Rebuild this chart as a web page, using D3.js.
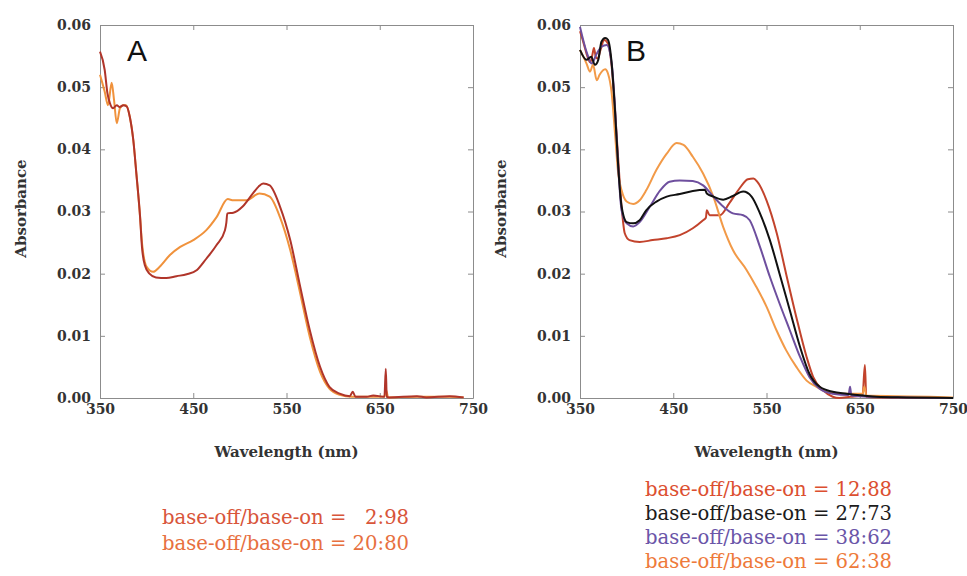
<!DOCTYPE html>
<html>
<head>
<meta charset="utf-8">
<script src="https://cdn.jsdelivr.net/npm/d3@7"></script>
<style>
  body { margin: 0; background: #fff; }
  .tick text { font-family: "DejaVu Serif", serif; font-weight: bold; font-size: 14px; fill: #333; }
  .axis path, .axis line { stroke: #8c8c8c; }
</style>
</head>
<body>
<div id="chart"></div>
<script>
// tick values and labels
var xTicks = [350, 450, 550, 650, 750];
var yTicks = [0, 0.01, 0.02, 0.03, 0.04, 0.05, 0.06];

// panel A spectra [wavelength nm, absorbance]
var a_2_98 = [[350,0.0557],[355,0.0528],[358,0.0490],[360.7,0.0474],[364,0.0466],[368,0.0471],[371,0.0468],[375,0.0471],[378.6,0.0469],[382,0.0452],[385.7,0.0415],[389,0.0361],[393,0.0291],[395,0.0243],[398,0.0214],[403,0.0200],[410,0.0194],[421,0.0193],[432,0.0196],[443,0.0199],[454,0.0206],[464,0.0224],[475,0.0246],[484,0.0270],[485.5,0.0282],[486.5,0.0297],[493,0.0298],[503,0.0308],[514,0.0329],[520,0.0340],[525,0.0345],[532,0.0342],[543,0.0308],[554,0.0254],[564,0.0184],[575,0.0109],[586,0.0050],[596,0.0018],[607,0.0007],[618,0.0003],[621,0.0010],[624,0.0002],[636,0.0002],[643,0.0004],[655,0.0002],[656.5,0.0047],[657.5,0.0002],[660,0.0001],[690,0.0003],[700,0.0001],[725,0.0003],[740,0.0001]];
var a_20_80 = [[350,0.0520],[355,0.0493],[358.6,0.0471],[362.5,0.0507],[365,0.0480],[368,0.0442],[371.4,0.0466],[375,0.0471],[378,0.0471],[382,0.0452],[385.7,0.0415],[389,0.0361],[393,0.0291],[395,0.0250],[400,0.0211],[407,0.0203],[414,0.0211],[425,0.0230],[436,0.0243],[450,0.0254],[464,0.0270],[475,0.0291],[487,0.0320],[493,0.0318],[507,0.0318],[521,0.0329],[532,0.0324],[543,0.0291],[554,0.0238],[564,0.0173],[575,0.0098],[586,0.0042],[596,0.0015],[607,0.0005],[620,0.0002],[655,0.0002],[657,0.0012],[659,0.0001],[690,0.0002],[725,0.0002],[740,0.0001]];

// panel B spectra
var b_12_88 = [[350,0.0590],[354,0.0570],[357,0.0554],[361,0.0540],[363,0.0550],[365,0.0563],[367,0.0548],[369,0.0546],[372,0.0560],[376,0.0576],[380,0.0570],[384,0.0533],[387.5,0.0463],[391,0.0383],[394.6,0.0308],[398,0.0265],[403,0.0254],[414,0.0251],[428,0.0254],[443,0.0257],[457,0.0262],[471,0.0273],[482,0.0286],[485,0.0290],[486,0.0302],[489,0.0294],[500,0.0294],[510,0.0313],[521,0.0337],[530,0.0352],[536,0.0353],[540,0.0348],[550,0.0318],[561,0.0265],[571,0.0200],[582,0.0130],[593,0.0066],[600,0.0034],[611,0.0012],[621,0.0002],[628,0.0000],[640,0.0002],[653,0.0004],[655.5,0.0053],[657,0.0002],[670,0.0001],[750,0.0000]];
var b_27_73 = [[350,0.0560],[357,0.0544],[362,0.0549],[366,0.0536],[369.6,0.0544],[373,0.0573],[377,0.0579],[380,0.0576],[384,0.0538],[387.5,0.0463],[391,0.0372],[394.6,0.0308],[400,0.0283],[407,0.0281],[414,0.0286],[421,0.0302],[432,0.0316],[443,0.0324],[457,0.0328],[471,0.0333],[484,0.0335],[486,0.0329],[493,0.0324],[503.6,0.0319],[514,0.0325],[525,0.0332],[534,0.0324],[543,0.0297],[553.6,0.0254],[564,0.0200],[575,0.0141],[586,0.0082],[596,0.0039],[607,0.0018],[621,0.0010],[636,0.0007],[654,0.0004],[668,0.0002],[700,0.0001],[750,0.0000]];
var b_38_62 = [[350,0.0597],[357,0.0557],[362.5,0.0538],[368,0.0554],[373,0.0565],[378.6,0.0568],[384,0.0538],[387.5,0.0469],[391,0.0372],[394.6,0.0302],[400,0.0281],[407,0.0276],[414,0.0283],[425,0.0308],[436,0.0334],[446,0.0348],[457,0.0350],[471,0.0349],[482,0.0342],[493,0.0324],[503.6,0.0308],[514,0.0297],[525,0.0294],[532,0.0286],[543,0.0243],[553.6,0.0195],[564,0.0152],[575,0.0109],[586,0.0066],[596,0.0034],[607,0.0015],[621,0.0007],[638,0.0005],[639.6,0.0018],[641,0.0004],[660,0.0002],[750,0.0000]];
var b_62_38 = [[350,0.0560],[357,0.0538],[360.7,0.0525],[364,0.0536],[368,0.0511],[371,0.0520],[377,0.0529],[380,0.0522],[384,0.0490],[387.5,0.0426],[391,0.0361],[394.6,0.0334],[400,0.0316],[407,0.0312],[414,0.0318],[421,0.0334],[432,0.0367],[443,0.0393],[453.6,0.0410],[461,0.0407],[471,0.0388],[482,0.0361],[493,0.0324],[503.6,0.0275],[514,0.0238],[528.6,0.0206],[539,0.0179],[550,0.0147],[560.7,0.0109],[571,0.0077],[582,0.0050],[593,0.0028],[603.6,0.0018],[614,0.0010],[628.6,0.0007],[653,0.0007],[655,0.0018],[657,0.0004],[689,0.0003],[725,0.0002],[750,0.0001]];

// legend labels
var legendA = ["base-off/base-on = \u20072:98", "base-off/base-on = 20:80"];
var legendB = ["base-off/base-on = 12:88", "base-off/base-on = 27:73", "base-off/base-on = 38:62", "base-off/base-on = 62:38"];

var width = 373, height = 373;

var svg = d3.select("#chart").append("svg")
    .attr("width", 967)
    .attr("height", 576);

function drawPanel(left, letter, letterX, series, colors) {
  var g = svg.append("g").attr("transform", "translate(" + left + ",25)");

  var x = d3.scaleLinear().domain([350, 750]).range([0, width]);
  var y = d3.scaleLinear().domain([0, 0.06]).range([height, 0]);

  g.append("g").attr("class", "axis")
    .attr("transform", "translate(0," + height + ")")
    .call(d3.axisBottom(x).tickValues(xTicks).tickSize(-5).tickSizeOuter(0).tickPadding(6).tickFormat(d3.format("d")));
  g.append("g").attr("class", "axis")
    .call(d3.axisLeft(y).tickValues(yTicks).tickSize(-5).tickSizeOuter(0).tickPadding(9).tickFormat(d3.format(".2f")));
  g.append("g").attr("class", "axis")
    .call(d3.axisTop(x).tickValues(xTicks).tickSize(-5).tickSizeOuter(0).tickFormat(""));
  g.append("g").attr("class", "axis")
    .attr("transform", "translate(" + width + ",0)")
    .call(d3.axisRight(y).tickValues(yTicks).tickSize(-5).tickSizeOuter(0).tickFormat(""));

  var line = d3.line()
    .x(function(d) { return x(d[0]); })
    .y(function(d) { return y(d[1]); })
    .curve(d3.curveMonotoneX);

  series.forEach(function(s, i) {
    g.append("path")
      .datum(s)
      .attr("d", line)
      .attr("fill", "none")
      .attr("stroke", colors[i])
      .attr("stroke-width", 2)
      .attr("stroke-linejoin", "round");
  });

  g.append("text")
    .attr("x", letterX).attr("y", 36)
    .style("font-family", "'Liberation Sans', Arial, sans-serif")
    .style("font-size", "30px")
    .attr("fill", "#111")
    .text(letter);

  g.append("text")
    .attr("x", width / 2).attr("y", height + 59)
    .attr("text-anchor", "middle")
    .style("font-family", "'DejaVu Serif', serif")
    .style("font-weight", "bold")
    .style("font-size", "15px")
    .attr("fill", "#333")
    .text("Wavelength (nm)");

  g.append("text")
    .attr("transform", "rotate(-90)")
    .attr("x", -height / 2 + 3).attr("y", -74)
    .attr("text-anchor", "middle")
    .style("font-family", "'DejaVu Serif', serif")
    .style("font-weight", "bold")
    .style("font-size", "15px")
    .attr("fill", "#333")
    .text("Absorbance");
}

drawPanel(100, "A", 27, [a_20_80, a_2_98], ["#f0923c", "#b0352a"]);
drawPanel(580, "B", 46, [b_12_88, b_62_38, b_38_62, b_27_73], ["#c2432c", "#f29a48", "#6e4f9e", "#111111"]);

// legends below each panel
var legendAColors = ["#d8553a", "#e77040"];
var legendBColors = ["#dc4f30", "#1c1c1c", "#6a55a8", "#ee7a3a"];

svg.selectAll(".legA")
  .data(legendA)
  .enter().append("text")
  .attr("class", "legA")
  .attr("x", 162)
  .attr("y", function(d, i) { return 524 + i * 26; })
  .style("font-family", "'DejaVu Serif', serif")
  .style("font-size", "19.6px")
  .attr("fill", function(d, i) { return legendAColors[i]; })
  .text(function(d) { return d; });

svg.selectAll(".legB")
  .data(legendB)
  .enter().append("text")
  .attr("class", "legB")
  .attr("x", 645)
  .attr("y", function(d, i) { return 496 + i * 24; })
  .style("font-family", "'DejaVu Serif', serif")
  .style("font-size", "19.6px")
  .attr("fill", function(d, i) { return legendBColors[i]; })
  .text(function(d) { return d; });
</script>
</body>
</html>
